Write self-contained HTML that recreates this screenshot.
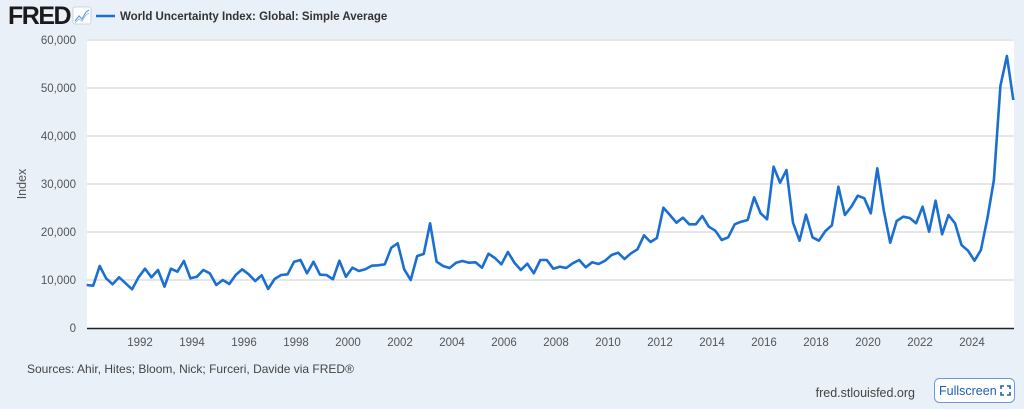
<!DOCTYPE html>
<html><head><meta charset="utf-8"><style>
html,body{margin:0;padding:0;}
body{width:1024px;height:409px;background:#e9f0f8;font-family:"Liberation Sans",sans-serif;overflow:hidden;position:relative;}
</style></head><body>
<svg width="1024" height="409" viewBox="0 0 1024 409" style="position:absolute;left:0;top:0">
<text x="8" y="24" font-size="25" font-weight="bold" fill="#1a1a1a" font-family="Liberation Sans" letter-spacing="-1.5">FRED</text>
<rect x="73" y="7" width="18" height="17" rx="2" fill="#fff" stroke="#bcd" stroke-width="0.8"/>
<polyline points="75,21 79,16 82,19 86,12 89,10" fill="none" stroke="#6a9bd8" stroke-width="1.2"/>
<polyline points="75,23 79,19 82,21 86,15 89,13" fill="none" stroke="#9fc1e8" stroke-width="1"/>
<line x1="96" y1="16" x2="115" y2="16" stroke="#1a6fd1" stroke-width="2.5"/>
<text x="120" y="20" font-size="11.5" font-weight="bold" fill="#333">World Uncertainty Index: Global: Simple Average</text>
<rect x="87" y="39" width="927" height="289" fill="#fff"/>
<g stroke="#cfcfcf" stroke-width="1">
<line x1="87" y1="40" x2="1014" y2="40"/>
<line x1="87" y1="88" x2="1014" y2="88"/>
<line x1="87" y1="136" x2="1014" y2="136"/>
<line x1="87" y1="184" x2="1014" y2="184"/>
<line x1="87" y1="232" x2="1014" y2="232"/>
<line x1="87" y1="280" x2="1014" y2="280"/>
</g>
<line x1="87" y1="328.5" x2="1014" y2="328.5" stroke="#222" stroke-width="1.5"/>
<g font-size="11.5" fill="#555" text-anchor="end">
<text x="76" y="44">60,000</text>
<text x="76" y="92">50,000</text>
<text x="76" y="140">40,000</text>
<text x="76" y="188">30,000</text>
<text x="76" y="236">20,000</text>
<text x="76" y="284">10,000</text>
<text x="76" y="332">0</text>
</g>
<g font-size="11.5" fill="#555" text-anchor="middle">
<text x="140" y="346">1992</text><text x="192" y="346">1994</text><text x="244" y="346">1996</text><text x="296" y="346">1998</text>
<text x="348" y="346">2000</text><text x="400" y="346">2002</text><text x="452" y="346">2004</text><text x="504" y="346">2006</text>
<text x="556" y="346">2008</text><text x="608" y="346">2010</text><text x="660" y="346">2012</text><text x="712" y="346">2014</text>
<text x="764" y="346">2016</text><text x="816" y="346">2018</text><text x="868" y="346">2020</text><text x="920" y="346">2022</text>
<text x="972" y="346">2024</text>
</g>
<text transform="translate(26,184) rotate(-90)" font-size="12.5" fill="#555" text-anchor="middle">Index</text>
<polyline fill="none" stroke="#1a6fd1" stroke-width="2.6" stroke-linejoin="round" points="
86.7,285 93.2,285.7 99.7,266 106.1,278.3 112.6,284.3 119.1,277.3 125.6,283.3 132.1,289.3 138.5,277.3 145.0,268.7
151.5,277.3 158.0,270 164.5,286.7 170.9,268.7 177.4,271.7 183.9,261 190.4,278.3 196.9,276.7 203.3,270 209.8,273.3
216.3,285 222.8,280 229.3,284 235.7,275 242.2,269.3 248.7,274.3 255.2,281 261.7,275.3 268.1,289 274.6,279
281.1,275 287.6,274.3 294.1,261.7 300.5,260 307.0,273.3 313.5,261.7 320.0,274.7 326.5,275 332.9,279.3 339.4,260.7
345.9,276.7 352.4,267.7 358.9,271 365.3,269.3 371.8,265.7 378.3,265.3 384.8,264.3 391.3,247.7 397.7,243.3 404.2,269.3
410.7,280 417.2,256 423.7,254 430.1,223.3 436.6,261.7 443.1,266 449.6,268 456.1,262.7 462.5,261 469.0,262.7
475.5,262.3 482.0,267.7 488.5,253.7 494.9,258 501.4,264.3 507.9,252 514.4,262.7 520.9,270 527.3,263.7 533.8,273.3
540.3,260 546.8,260 553.3,268.7 559.7,266.7 566.2,268 572.7,263.3 579.2,260 585.7,267.3 592.1,262.3 598.6,264
605.1,260.7 611.6,255 618.1,252.7 624.5,259 631.0,253.3 637.5,249.3 644.0,235.3 650.5,242 656.9,238 663.4,207.7
669.9,215 676.4,222.7 682.9,217.7 689.3,224.3 695.8,224.3 702.3,216 708.8,226.7 715.3,230.7 721.7,240 728.2,237.3
734.7,224.3 741.2,221.7 747.7,220 754.1,197.3 760.6,213.3 767.1,219.3 773.6,166.7 780.1,182.7 786.5,170 793.0,222.7
799.5,240.7 806.0,214.7 812.5,237.3 818.9,240.7 825.4,231 831.9,225.3 838.4,186.7 844.9,215 851.3,206.7 857.8,195.7
864.3,198.3 870.8,213.3 877.3,168.3 883.7,210 890.2,242.7 896.7,221 903.2,216.7 909.7,218 916.1,223.3 922.6,206.7
929.1,231.7 935.6,200.7 942.1,234.3 948.5,215 955.0,223.3 961.5,245 968.0,250.7 974.5,260.7 980.9,250 987.4,218.3
993.9,180 1000.4,86 1006.9,56 1013.3,100"/>
<text x="27" y="373" font-size="12" fill="#444">Sources: Ahir, Hites; Bloom, Nick; Furceri, Davide via FRED®</text>
<text x="915" y="397" font-size="12.5" fill="#444" text-anchor="end">fred.stlouisfed.org</text>
<rect x="934.5" y="378.5" width="80" height="24" rx="5" fill="#fff" stroke="#6a9bd8" stroke-width="1"/>
<text x="939" y="395" font-size="12.5" fill="#1a5fb4">Fullscreen</text>
<g stroke="#1a5fb4" stroke-width="1.6" fill="none">
<polyline points="1001,389 1001,386 1004,386"/><polyline points="1007,386 1010,386 1010,389"/>
<polyline points="1001,392 1001,395 1004,395"/><polyline points="1007,395 1010,395 1010,392"/>
</g>
</svg>
</body></html>
